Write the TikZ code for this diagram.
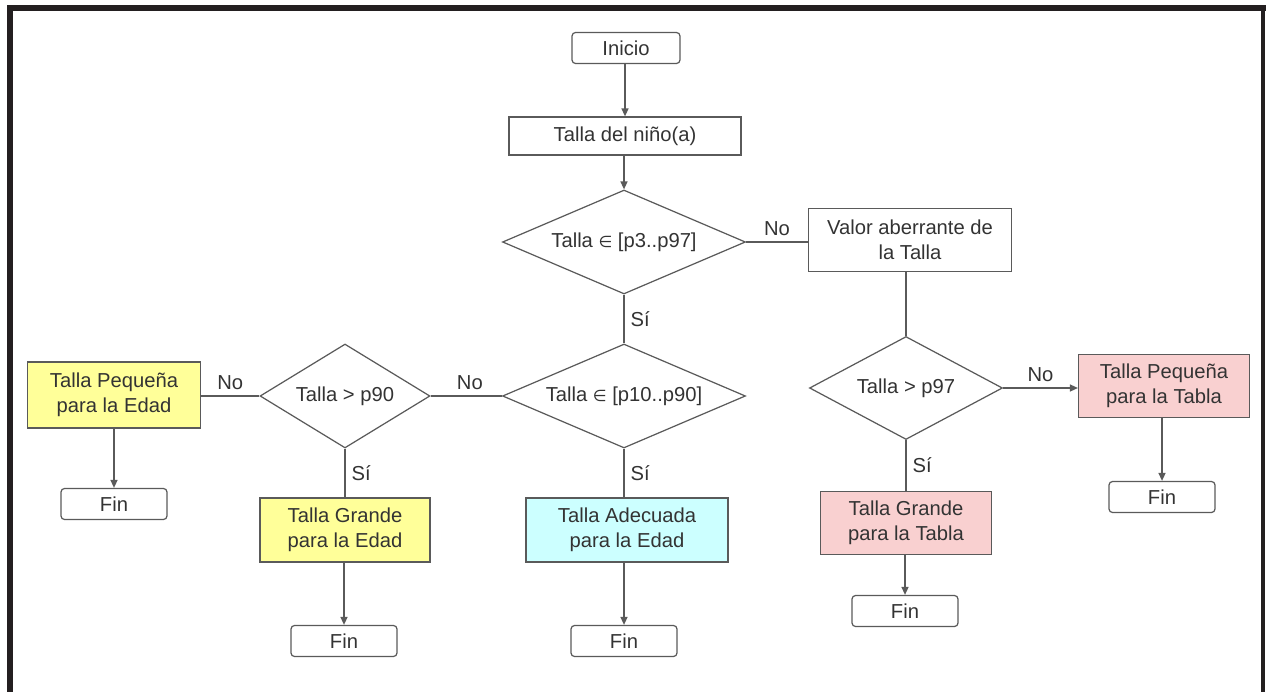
\documentclass[tikz,border=0pt]{standalone}
\usepackage{fontspec}
\setmainfont{Liberation Sans}
\newfontfamily\symfont{DejaVu Sans}
\usetikzlibrary{shapes.geometric,arrows.meta}

\definecolor{frameBlack}{HTML}{231F20}
\definecolor{lineGray}{HTML}{5A5A5A}
\definecolor{textGray}{HTML}{333333}
\definecolor{edadYellow}{HTML}{FFFF99}
\definecolor{okCyan}{HTML}{CCFFFF}
\definecolor{tablaPink}{HTML}{F9D0D0}

\begin{document}
\begin{tikzpicture}[x=0.02cm, y=-0.02cm,
	font=\fontsize{11.5}{14}\selectfont, text=textGray,
	procbox/.style={draw=lineGray, line width=0.7pt, rectangle, align=center, inner sep=2pt},
	endbox/.style={procbox, rounded corners=2pt, minimum width=2.12cm, minimum height=0.62cm},
	decision/.style={draw=lineGray, line width=0.7pt, diamond, aspect=2.3, inner sep=0pt},
	flowline/.style={draw=lineGray, line width=0.8pt},
	flowarrow/.style={flowline, -{Triangle[length=1.6mm,width=1.4mm]}}]
	
	% Fix the page size and draw the frame
	\useasboundingbox (0,0) rectangle (1266,692);
	\fill[frameBlack] (7,5) rectangle (1266,11);
	\fill[frameBlack] (7,5) rectangle (13,692);
	\fill[frameBlack] (1261,5) rectangle (1265,692);
	
	% Start and first steps
	\node[endbox, minimum width=2.16cm] (start) at (626,48) {Inicio};
	\node[procbox, minimum width=4.64cm, minimum height=0.76cm] (size) at (625,136) {Talla del niño(a)};
	\node[decision, minimum width=4.86cm, minimum height=2.08cm] (d1) at (624,242) {Talla {\symfont\small ∈} [p3..p97]};
	
	% Right branch (outlier values)
	\node[procbox, minimum width=4.06cm, minimum height=1.26cm] (outl) at (910,240) {Valor aberrante de\\la Talla};
	\node[decision, minimum width=3.86cm, minimum height=2.06cm] (d97) at (906,388) {Talla > p97};
	\node[procbox, fill=tablaPink, minimum width=3.42cm, minimum height=1.26cm] (smallT) at (1164,386) {Talla Pequeña\\para la Tabla};
	\node[procbox, fill=tablaPink, minimum width=3.42cm, minimum height=1.26cm] (bigT) at (906,523) {Talla Grande\\para la Tabla};
	
	% Middle and left branch (age)
	\node[decision, minimum width=4.86cm, minimum height=2.08cm] (d2) at (624,396) {Talla {\symfont\small ∈} [p10..p90]};
	\node[decision, minimum width=3.4cm, minimum height=2.08cm] (d90) at (345,396) {Talla > p90};
	\node[procbox, fill=edadYellow, minimum width=3.46cm, minimum height=1.32cm] (smallE) at (114,395) {Talla Pequeña\\para la Edad};
	\node[procbox, fill=edadYellow, minimum width=3.4cm, minimum height=1.28cm] (bigE) at (345,530) {Talla Grande\\para la Edad};
	\node[procbox, fill=okCyan, minimum width=4.04cm, minimum height=1.28cm] (okE) at (627,530) {Talla Adecuada\\para la Edad};
	
	% End boxes
	\foreach \name/\x/\y in {finT1/1162/497, finT2/905/611, finE1/114/504, finE2/344/641, finE3/624/641} {
		\node[endbox] (\name) at (\x,\y) {Fin};
	}
	
	% Connectors
	\draw[flowarrow] (start.south -| size.north) -- (size.north);
	\draw[flowarrow] (size.south -| d1.north) -- (d1.north);
	\draw[flowline] (d1.east) -- node[above] {No} (outl.west |- d1.east);
	\draw[flowline] (outl.south -| d97.north) -- (d97.north);
	\draw[flowarrow] (d97.east) -- node[above] {No} (smallT.west |- d97.east);
	\draw[flowline] (d97.south) -- node[right] {Sí} (bigT.north);
	\draw[flowline] (d1.south) -- node[right] {Sí} (d2.north);
	\draw[flowline] (d2.west) -- node[above, pos=0.45] {No} (d90.east);
	\draw[flowline] (d90.west) -- node[above] {No} (smallE.east |- d90.west);
	\draw[flowline] (d90.south) -- node[right] {Sí} (bigE.north);
	\draw[flowline] (d2.south) -- node[right] {Sí} (okE.north -| d2.south);
	
	% Arrows to the end boxes
	\foreach \from/\to in {smallT/finT1, bigT/finT2, smallE/finE1, bigE/finE2, okE/finE3} {
		\draw[flowarrow] (\from.south -| \to.north) -- (\to.north);
	}
\end{tikzpicture}
\end{document}
